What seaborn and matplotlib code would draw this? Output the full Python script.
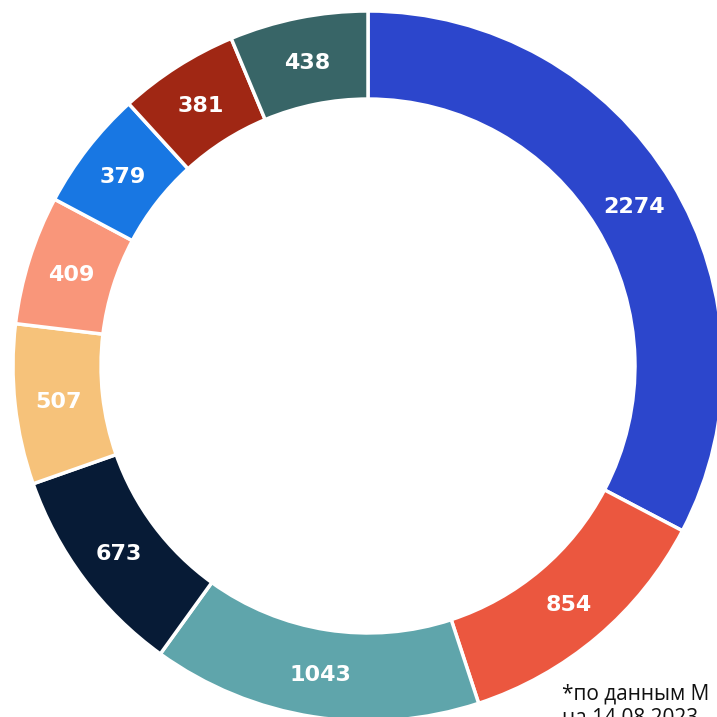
import matplotlib
matplotlib.use("Agg")
import matplotlib.pyplot as plt
import seaborn as sns

values = [2274, 854, 1043, 673, 507, 409, 379, 381, 438]
labels = ["2274", "854", "1043", "673", "507", "409", "379", "381", "438"]
colors = ["#2c46cc", "#eb573f", "#5fa5ab", "#071b36", "#f6c27a",
          "#f9967a", "#1877e3", "#a02714", "#386567"]
note_lines = ["*по данным М", "на 14.08.2023"]

sns.set_theme(style="white")
plt.rcParams["font.family"] = ["DejaVu Sans"]

W = H = 717
fig = plt.figure(figsize=(W / 100, H / 100), dpi=100)
ax = fig.add_axes([0, 0, 1, 1])

cx, cy, R = 368, 366, 355
ring = 0.248

wedges, texts = ax.pie(
    values, colors=colors, startangle=90, counterclock=False, radius=1,
    labels=labels, labeldistance=1 - ring / 2,
    wedgeprops=dict(width=ring, edgecolor="white", linewidth=2.5),
    textprops=dict(color="white", fontsize=16, fontweight="bold",
                   ha="center", va="center_baseline"),
)
ax.set_xlim(-cx / R, (W - cx) / R)
ax.set_ylim(-(H - cy) / R, cy / R)
ax.set_aspect("auto")
ax.axis("off")

fig.text(562 / W, 1 - 699 / H, note_lines[0], fontsize=15, color="#111111",
         ha="left", va="baseline", family=["Open Sans", "DejaVu Sans"])
fig.text(562 / W, 1 - 724 / H, note_lines[1], fontsize=15, color="#111111",
         ha="left", va="baseline", family=["Open Sans", "DejaVu Sans"])

fig.savefig("out.png", dpi=100, facecolor="white")
